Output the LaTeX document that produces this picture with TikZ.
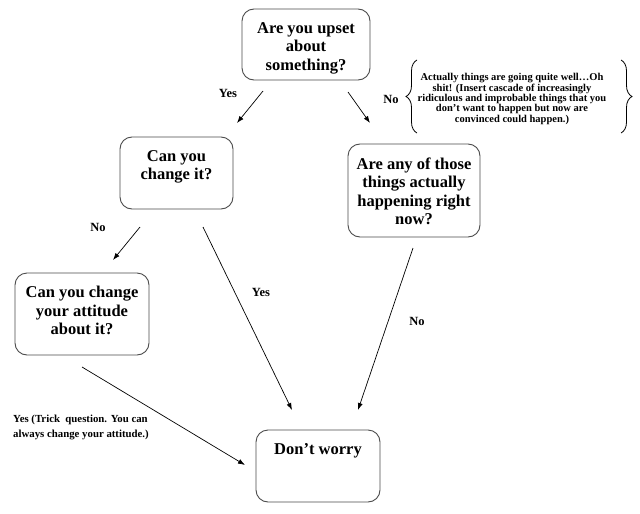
\documentclass[tikz,border=0pt]{standalone}
\usepackage{fontspec}
\setmainfont{Liberation Serif}
\usetikzlibrary{arrows.meta,decorations.pathreplacing}
\newcommand{\boxtext}[3]{\parbox[c][#2pt][t]{#1pt}{\centering\fontsize{16.5}{18.5}\selectfont\bfseries\vspace*{13.5pt}#3\par}}
\tikzset{
  qbox/.style={draw=black!70, line width=0.9pt, rounded corners=12pt, inner sep=0pt, fill=white},
  conn/.style={line width=0.7pt, -{Latex[length=7pt,width=5pt]}},
  lab/.style={font=\fontsize{12.5}{14}\selectfont\bfseries, inner sep=0pt},
  note/.style={font=\fontsize{10.5}{10.4}\selectfont\bfseries, align=center, inner sep=0pt},
  trick/.style={font=\fontsize{10.8}{15}\selectfont\bfseries, align=left, inner sep=0pt, anchor=west},
  brc/.style={decorate, decoration={brace, amplitude=11pt}, line width=0.8pt}
}
\begin{document}
\begin{tikzpicture}[x=1pt,y=-1pt]
\useasboundingbox[fill=white] (0,0) rectangle (640,514);
% boxes
\node[qbox] (b1) at (306,44.5) {\boxtext{128}{71}{Are you upset\\about\\something?}};
\node[qbox] (b2) at (176.5,173) {\boxtext{113}{72}{Can you\\change it?}};
\node[qbox] (b3) at (414,190.5) {\boxtext{132}{93}{Are any of those\\things actually\\happening right\\now?}};
\node[qbox] (b4) at (82,314) {\boxtext{134}{82}{Can you change\\your attitude\\about it?}};
\node[qbox] (b5) at (318,466) {\boxtext{124}{72}{Don't worry}};
% connector endpoints
\coordinate (c1a) at (263,91);  \coordinate (c1b) at (237,123);
\coordinate (c2a) at (348,92);  \coordinate (c2b) at (370,123);
\coordinate (c3a) at (140,227); \coordinate (c3b) at (113,260);
\coordinate (c4a) at (203,227); \coordinate (c4b) at (292,410);
\coordinate (c5a) at (413,248); \coordinate (c5b) at (358,410);
\coordinate (c6a) at (82,367);  \coordinate (c6b) at (245,465);
\draw[conn] (c1a) -- (c1b);
\draw[conn] (c2a) -- (c2b);
\draw[conn] (c3a) -- (c3b);
\draw[conn] (c4a) -- (c4b);
\draw[conn] (c5a) -- (c5b);
\draw[conn] (c6a) -- (c6b);
% labels
\node[lab] (l1) at (228,93) {Yes};
\node[lab] (l2) at (391,99) {No};
\node[lab] (l3) at (98,227) {No};
\node[lab] (l4) at (261,292) {Yes};
\node[lab] (l5) at (417,321) {No};
\node[trick] (l6) at (13,427.5) {Yes (Trick\ \ question. You can\\always change your attitude.)};
% note with braces
\node[note] (n1) at (512,99) {Actually things are going quite well…Oh\\shit! (Insert cascade of increasingly\\ridiculous and improbable things that you\\don't want to happen but now are\\convinced could happen.)};
\coordinate (br1a) at (417,133); \coordinate (br1b) at (417,60);
\coordinate (br2a) at (621,60);  \coordinate (br2b) at (621,133);
\draw[brc] (br1a) -- (br1b);
\draw[brc] (br2a) -- (br2b);
\end{tikzpicture}
\end{document}
